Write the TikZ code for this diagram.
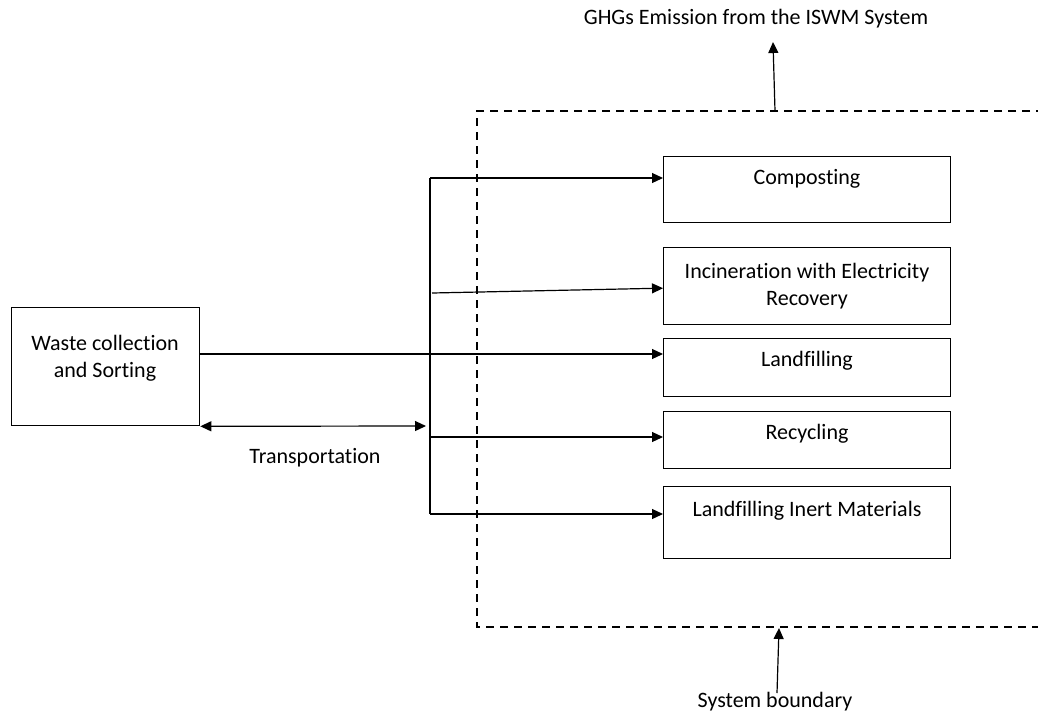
\documentclass[tikz,border=0pt]{standalone}
\usepackage{fontspec}
\setmainfont[Ligatures={NoCommon,NoContextual}]{Carlito}
\usetikzlibrary{arrows.meta}
\begin{document}
\begin{tikzpicture}[x=1pt,y=-1pt,
  box/.style={draw,line width=1.3pt,inner sep=0pt,anchor=north west},
  lbl/.style={font=\fontsize{22}{27}\selectfont,align=center,inner sep=0pt},
  flow/.style={line width=1.2pt,-{Triangle[length=11pt,width=10pt]}},
  bnd/.style={line width=1.4pt,dash pattern=on 8pt off 6pt}]
\useasboundingbox (0,0) rectangle (1038,713);
% system boundary
\coordinate (b1) at (1044,111);
\coordinate (b2) at (477,111);
\coordinate (b3) at (477,627);
\coordinate (b4) at (1044,627);
\draw[bnd] (b1) -- (b2) -- (b3) -- (b4);
% boxes
\node[box,minimum width=188pt,minimum height=118pt] (waste) at (11,307) {};
\node[box,minimum width=287pt,minimum height=66pt] (comp) at (663,156) {};
\node[box,minimum width=287pt,minimum height=77pt] (inc) at (663,247) {};
\node[box,minimum width=287pt,minimum height=58pt] (land) at (663,338) {};
\node[box,minimum width=287pt,minimum height=57pt] (rec) at (663,411) {};
\node[box,minimum width=287pt,minimum height=72pt] (inert) at (663,486) {};
% labels
\node[lbl] (wastet) at (105,358) {Waste collection\\and Sorting};
\node[lbl] (compt) at (807,179) {Composting};
\node[lbl] (inct) at (807,286) {Incineration with Electricity\\Recovery};
\node[lbl] (landt) at (807,361) {Landfilling};
\node[lbl] (rect) at (807,434) {Recycling};
\node[lbl] (inertt) at (807,511) {Landfilling Inert Materials};
\node[lbl] (trans) at (315,458) {Transportation};
\node[lbl] (ghg) at (756,19) {GHGs Emission from the ISWM System};
\node[lbl] (sysb) at (775,702) {System boundary};
% distribution trunk
\coordinate (t1) at (430,178);
\coordinate (t2) at (430,514);
\coordinate (i0) at (432,293);
\coordinate (r0) at (430,437);
\draw[line width=1.2pt] (t1) -- (t2);
\draw[flow] (t1) -- (comp.west |- t1);
\draw[flow] (i0) -- ([yshift=-2pt]inc.west);
\draw[flow] (waste.east |- 0,354) -- (land.west |- 0,354);
\draw[flow] (r0) -- (rec.west |- r0);
\draw[flow] (t2) -- (inert.west |- t2);
\coordinate (tr) at (426,426);
\draw[line width=1.2pt,{Triangle[length=11pt,width=10pt]}-{Triangle[length=11pt,width=10pt]}] (waste.south east) -- (tr);
% emission and boundary arrows
\coordinate (g0) at (775,111);
\draw[flow] (g0) -- (773,42);
\coordinate (s0) at (777,693);
\coordinate (s1) at (779,628);
\draw[flow] (s0) -- (s1);
\end{tikzpicture}
\end{document}
